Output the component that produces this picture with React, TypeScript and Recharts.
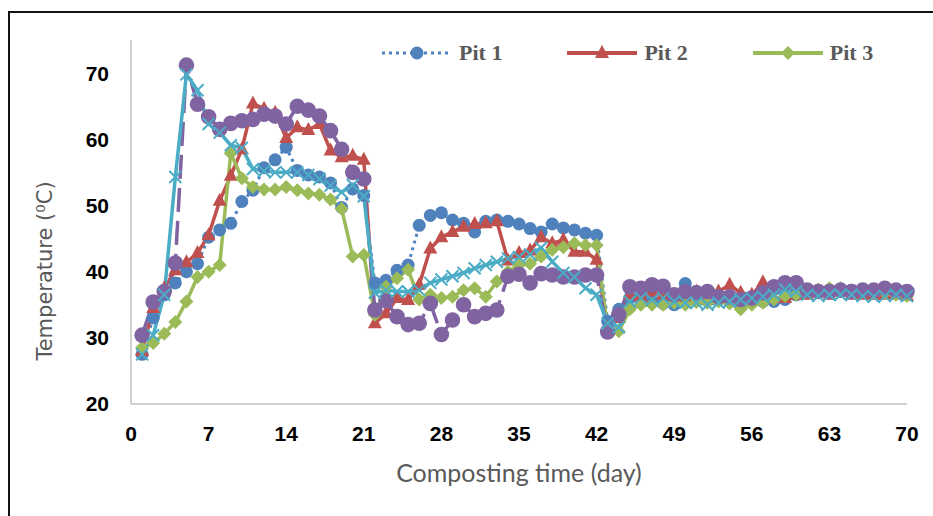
import React from "react"
import { LineChart, Line, XAxis, YAxis, Legend } from "recharts"

const days = Array.from({ length: 70 }, (_, i) => i + 1)

const pit1 = [
  27.5, 33, 36.5, 38.3, 40, 41.2, 45.2, 46.3, 47.3, 50.6,
  52.3, 55.7, 56.9, 58.8, 55.3, 54.6, 54.3, 53.4, 49.7, 52.5,
  51.5, 38.3, 38.7, 40.2, 41, 47, 48.5, 48.9, 47.8, 47.3,
  46, 47.6, 47.8, 47.6, 47.2, 46.5, 46, 47.2, 46.6, 46.3,
  45.8, 45.5, 32.5, 34.3, 36, 36.3, 35.5, 35.2, 35, 38.2,
  37, 36.3, 35.8, 35.5, 35.5, 35.8, 35.5, 35.5, 35.8, 36.5,
  36.8, 37, 37, 37, 37.2, 37, 37.2, 37, 37.2, 37,
]

const pit2 = [
  28, 34.5, 37.5, 40.2, 41.4, 42.8, 45.5, 50.7, 54.5, 58.5,
  65.4, 64.6, 64, 60.2, 61.8, 61.4, 62.3, 58.3, 57.3, 57.5,
  56.9, 32.2, 33.7, 36, 35.7, 38, 43.5, 45.2, 46, 46.8,
  47.2, 47.3, 47.6, 41.7, 42.8, 43.2, 45.2, 44.3, 44.8, 43,
  43, 41.8, 31.5, 33, 36.5, 36.2, 37, 36.5, 36.2, 36.2,
  37, 36.5, 37, 38, 36.8, 36.5, 38.4, 36, 36, 36.5,
  36.5, 37, 36.5, 37, 36.5, 36.5, 36.5, 36.5, 36.5, 36.3,
]

const pit3 = [
  28.5, 29.2, 30.6, 32.4, 35.5, 39.2, 40, 41, 57.9, 54.1,
  52.8, 52.4, 52.4, 52.8, 52.3, 51.8, 51.6, 50.9, 49.5, 42.3,
  42.5, 33.5, 37.7, 39, 40.3, 35.8, 36.5, 36, 36.2, 37.2,
  37.5, 36.2, 38.5, 40, 41, 41.2, 42.3, 43.3, 43.7, 44.3,
  44, 44, 31.3, 31, 34.3, 35, 35, 35, 35.3, 35,
  35.4, 35.3, 35.5, 35.2, 34.3, 35, 35.3, 35.8, 36.3, 36.5,
  37, 37.3, 37.5, 37.5, 37, 37, 36.8, 36.8, 36.5, 36.3,
]

const pit4 = [
  30.4, 35.4, 37, 41.3, 71.2, 65.3, 63.4, 61.5, 62.4, 62.8,
  63, 63.8, 63.5, 62.3, 65, 64.4, 63.5, 61.3, 58.5, 55,
  54, 34.2, 35.6, 33.2, 32, 32.2, 35.2, 30.5, 32.7, 35,
  33.2, 33.7, 34.2, 39.3, 39.6, 38.3, 39.7, 39.5, 39.2, 39.2,
  39.5, 39.5, 30.9, 33.5, 37.7, 37.5, 38, 37.8, 36.5, 37,
  36.8, 37, 36.2, 36.2, 35.8, 36, 36.8, 37.7, 38.3, 38.3,
  37.2, 37, 37, 37.2, 37, 37.2, 37.2, 37.5, 37.2, 37,
]

const pit5 = [
  27.5, 30.4, 36.5, 54.3, 69.8, 67.4, 62.3, 61, 59.1, 58.7,
  55.5, 55.2, 55, 55, 55, 54.6, 54, 53, 52, 53.1,
  51.4, 36.8, 37.2, 37, 37, 37.2, 38.3, 38.8, 39.3, 39.8,
  40.5, 41, 41.5, 42, 42.2, 42.6, 43.6, 41.5, 39.8, 39.2,
  37.5, 36.5, 32.2, 31.6, 35.5, 36, 35.7, 36, 35.5, 35.3,
  35.3, 35, 35.3, 35.5, 35.8, 36, 36.2, 36.5, 37.3, 37,
  36.5, 36.3, 36.5, 36.5, 36.5, 36.3, 36.2, 36.3, 36.5, 36.3,
]

const xTicks = [0, 7, 14, 21, 28, 35, 42, 49, 56, 63, 70]
const yTicks = [20, 30, 40, 50, 60, 70]

const data = days.map((day, i) => ({
  day,
  pit1: pit1[i],
  pit2: pit2[i],
  pit3: pit3[i],
  pit4: pit4[i],
  pit5: pit5[i],
}))

const BLUE = "#4F81BD"
const RED = "#C0504D"
const GREEN = "#9BBB59"
const PURPLE = "#8064A2"
const CYAN = "#4BACC6"

const blueDot = (p: any) => <circle key={p.key} cx={p.cx} cy={p.cy} r={6.5} fill={BLUE} />
const redDot = (p: any) => (
  <path key={p.key} d={`M${p.cx},${p.cy - 8} L${p.cx + 7},${p.cy + 5} L${p.cx - 7},${p.cy + 5} Z`} fill={RED} />
)
const greenDot = (p: any) => (
  <path key={p.key} d={`M${p.cx},${p.cy - 7} L${p.cx + 7},${p.cy} L${p.cx},${p.cy + 7} L${p.cx - 7},${p.cy} Z`} fill={GREEN} />
)
const purpleDot = (p: any) => <circle key={p.key} cx={p.cx} cy={p.cy} r={7.8} fill={PURPLE} />
const cyanDot = (p: any) => (
  <path
    key={p.key}
    d={`M${p.cx - 6},${p.cy - 6} L${p.cx + 6},${p.cy + 6} M${p.cx + 6},${p.cy - 6} L${p.cx - 6},${p.cy + 6}`}
    stroke={CYAN}
    strokeWidth={2}
    fill="none"
  />
)

const legendItems = [
  { label: "Pit 1", color: BLUE, kind: "dot" },
  { label: "Pit 2", color: RED, kind: "tri" },
  { label: "Pit 3", color: GREEN, kind: "dia" },
]

function PitLegend() {
  return (
    <div style={{ display: "flex", alignItems: "center", height: 20 }}>
      {legendItems.map((it, i) => (
        <div key={it.label} style={{ display: "flex", alignItems: "center", marginLeft: i === 0 ? 0 : 65 }}>
          <svg width={70} height={20}>
            <line
              x1={0}
              y1={10}
              x2={70}
              y2={10}
              stroke={it.color}
              strokeWidth={it.kind === "dot" ? 3 : 4}
              strokeDasharray={it.kind === "dot" ? "3 4" : undefined}
            />
            {it.kind === "dot" && <circle cx={35} cy={10} r={6.5} fill={it.color} />}
            {it.kind === "tri" && <path d="M35,2 L42,15 L28,15 Z" fill={it.color} />}
            {it.kind === "dia" && <path d="M35,3 L42,10 L35,17 L28,10 Z" fill={it.color} />}
          </svg>
          <span
            style={{
              marginLeft: 7,
              fontFamily: "'Liberation Serif', 'Times New Roman', serif",
              fontWeight: "bold",
              fontSize: 22,
              color: "#595959",
              lineHeight: "20px",
            }}
          >
            {it.label}
          </span>
        </div>
      ))}
    </div>
  )
}

export default function App() {
  return (
    <div style={{ position: "relative", width: 933, height: 516, overflow: "hidden", background: "#fff" }}>
      <style>{`body{margin:0}`}</style>
      <div
        style={{
          position: "absolute",
          left: 8,
          top: 11,
          width: 1000,
          height: 600,
          border: "2px solid #111",
        }}
      />
      <div style={{ position: "absolute", left: 0, top: 0 }}>
        <LineChart width={933} height={516} data={data} margin={{ top: 20, right: 26, left: 0, bottom: 0 }}>
          <XAxis
            dataKey="day"
            type="number"
            domain={[0, 70]}
            ticks={xTicks}
            interval={0}
            height={112}
            tickLine={false}
            tickMargin={16}
            axisLine={{ stroke: "#d0d0d0", strokeWidth: 2 }}
            tick={{ fill: "#000", fontSize: 21, fontWeight: "bold", fontFamily: "'Liberation Sans', Arial, sans-serif" }}
            label={{
              value: "Composting time (day)",
              position: "insideBottom",
              offset: 34,
              fill: "#595959",
              fontSize: 25,
              fontFamily: "Lato, sans-serif",
            }}
          />
          <YAxis
            type="number"
            domain={[20, 75]}
            ticks={yTicks}
            interval={0}
            width={131}
            tickLine={false}
            tickMargin={16}
            axisLine={{ stroke: "#d0d0d0", strokeWidth: 2 }}
            tick={{ fill: "#000", fontSize: 21, fontWeight: "bold", fontFamily: "'Liberation Sans', Arial, sans-serif" }}
          />
          <Legend
            verticalAlign="top"
            content={() => <PitLegend />}
            wrapperStyle={{ top: 43, left: 382, width: "auto", height: 20 }}
          />
          <Line
            dataKey="pit1"
            name="Pit 1"
            stroke={BLUE}
            strokeWidth={3}
            strokeDasharray="3 4"
            dot={blueDot}
            activeDot={false}
            isAnimationActive={false}
          />
          <Line
            dataKey="pit2"
            name="Pit 2"
            stroke={RED}
            strokeWidth={3.5}
            dot={redDot}
            activeDot={false}
            isAnimationActive={false}
          />
          <Line
            dataKey="pit3"
            name="Pit 3"
            stroke={GREEN}
            strokeWidth={3.5}
            dot={greenDot}
            activeDot={false}
            isAnimationActive={false}
          />
          <Line
            dataKey="pit4"
            name="Pit 4"
            stroke={PURPLE}
            strokeWidth={3.5}
            strokeDasharray="24 9"
            dot={purpleDot}
            activeDot={false}
            legendType="none"
            isAnimationActive={false}
          />
          <Line
            dataKey="pit5"
            name="Pit 5"
            stroke={CYAN}
            strokeWidth={3.5}
            dot={cyanDot}
            activeDot={false}
            legendType="none"
            isAnimationActive={false}
          />
        </LineChart>
      </div>
      <svg style={{ position: "absolute", left: 0, top: 0 }} width={933} height={516} pointerEvents="none">
        <text
          x={0}
          y={0}
          transform="translate(52,271) rotate(-90)"
          textAnchor="middle"
          fill="#595959"
          fontSize={21}
          fontFamily="'DejaVu Sans', sans-serif"
        >
          Temperature (⁰C)
        </text>
      </svg>
    </div>
  )
}
